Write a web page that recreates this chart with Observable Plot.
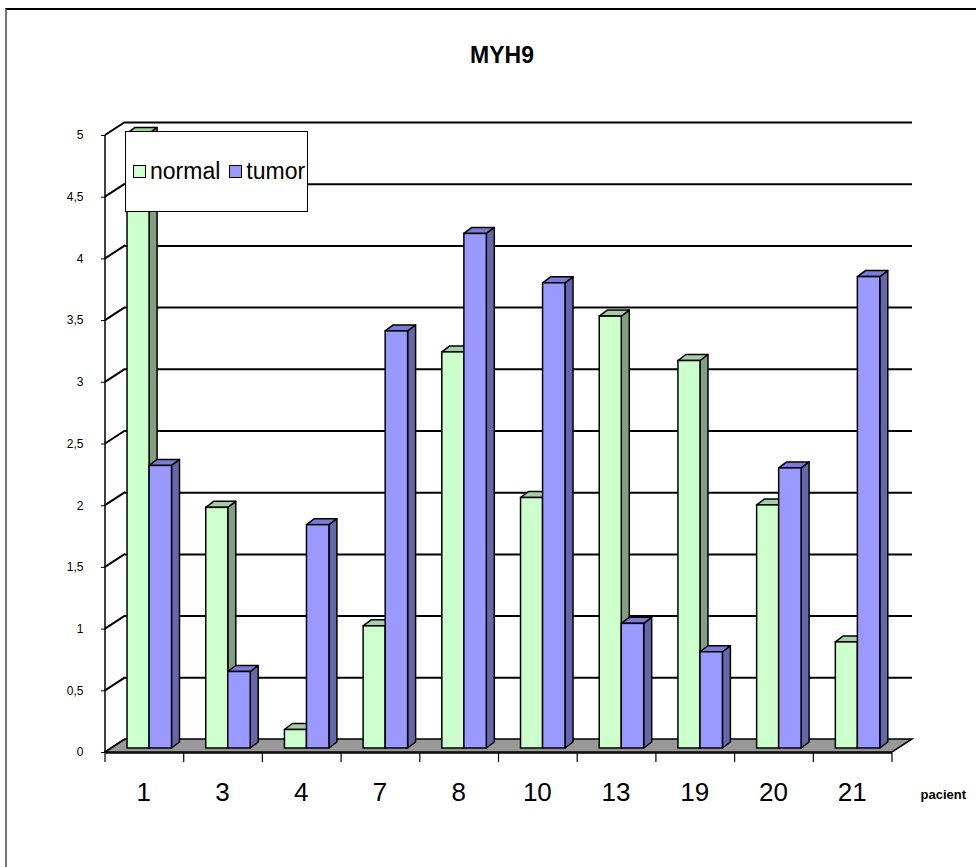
<!DOCTYPE html>
<html>
<head>
<meta charset="utf-8">
<script src="https://cdn.jsdelivr.net/npm/d3@7"></script>
<script src="https://cdn.jsdelivr.net/npm/@observablehq/plot@0.6"></script>
<style>
  html, body { margin: 0; padding: 0; background: #fff; overflow: hidden; }
  #chart { position: relative; width: 976px; height: 867px; font-family: "Liberation Sans", Arial, sans-serif; }
  #chart svg { position: absolute; left: 0; top: 0; }
  .border { position: absolute; left: 5px; top: 8px; width: 990px; height: 880px; border-top: 2px solid #000; border-left: 2px solid #777; pointer-events: none; }
  .legend { position: absolute; left: 125px; top: 131px; width: 174px; height: 79px; border: 1px solid #000; background: #fff;
            display: flex; align-items: center; padding-left: 7px; box-sizing: content-box; font-size: 23px; white-space: nowrap; color: #000; }
  .legend .sw { display: inline-block; width: 11px; height: 11px; border: 1.5px solid #000; margin-right: 4px; }
  .legend .item { display: flex; align-items: center; margin-right: 9px; }
</style>
</head>
<body>
<div id="chart"></div>
<script>
// MYH9 expression per patient, normal vs tumor tissue
const patients = ["1", "3", "4", "7", "8", "10", "13", "19", "20", "21"];
const normal   = [4.98, 1.95, 0.15, 0.99, 3.21, 2.03, 3.50, 3.14, 1.97, 0.86];
const tumor    = [2.29, 0.62, 1.81, 3.38, 4.17, 3.77, 1.01, 0.78, 2.27, 3.82];
const yTicks   = [0, 0.5, 1, 1.5, 2, 2.5, 3, 3.5, 4, 4.5, 5];
const seriesNames = ["normal", "tumor"];

const rows = patients.map((p, i) => ({patient: p, normal: normal[i], tumor: tumor[i]}));

// layout
const W = 976, H = 867;
const M = {left: 105, right: 84, top: 135, bottom: 115};
const bw = (W - M.left - M.right) / patients.length;

// pseudo-3D: depth of the floor / back wall, depth of each bar, and how far the bars sit behind the front edge
const DX = 20, DY = -13;
const BX = 8, BY = -6;
const LIFT = -4;

const style = {
  normal: {front: "#ccffcc", side: "#80a080", top: "#a6cfa6", slot: [0.28, 0.56]},
  tumor:  {front: "#9999ff", side: "#6666aa", top: "#7c7cd8", slot: [0.56, 0.845]}
};

// floor, left wall and category ticks
function walls(index, {x, y}, values, dims) {
  const g = d3.create("svg:g");
  const x0 = dims.marginLeft, x1 = dims.width - dims.marginRight, y0 = y(0);
  // left wall gridlines
  for (const v of yTicks) {
    g.append("line").attr("x1", x0).attr("y1", y(v)).attr("x2", x0 + DX).attr("y2", y(v) + DY)
      .attr("stroke", "#000").attr("stroke-width", 2);
  }
  // floor
  g.append("path")
    .attr("d", `M${x0},${y0}L${x1},${y0}L${x1 + DX},${y0 + DY}L${x0 + DX},${y0 + DY}Z`)
    .attr("fill", "#999").attr("stroke", "#000").attr("stroke-width", 1.5);
  // value axis line
  g.append("line").attr("x1", x0).attr("x2", x0).attr("y1", y(0)).attr("y2", y(5))
    .attr("stroke", "#000").attr("stroke-width", 1.5);
  // category axis line and ticks between categories
  g.append("line").attr("x1", x0).attr("x2", x1).attr("y1", y0 + 1).attr("y2", y0 + 1)
    .attr("stroke", "#000").attr("stroke-width", 1.5);
  const edges = patients.map(p => x(p)).concat([x(patients[patients.length - 1]) + x.bandwidth()]);
  for (const e of edges) {
    g.append("line").attr("x1", e).attr("x2", e).attr("y1", y0 + 1).attr("y2", y0 + 10)
      .attr("stroke", "#000").attr("stroke-width", 1.2);
  }
  return g.node();
}

// side and top faces of one series' bars
function barDepth(name, vals) {
  const s = style[name];
  return (index, {x, y}) => {
    const g = d3.create("svg:g").attr("stroke", "#000").attr("stroke-width", 1.5).attr("stroke-linejoin", "round");
    const w = x.bandwidth();
    patients.forEach((p, i) => {
      const xl = x(p) + s.slot[0] * w, xr = x(p) + s.slot[1] * w;
      const yt = y(vals[i]) + LIFT, yb = y(0) + LIFT;
      g.append("path").attr("fill", s.side)
        .attr("d", `M${xr},${yb}L${xr},${yt}L${xr + BX},${yt + BY}L${xr + BX},${yb + BY}Z`);
      g.append("path").attr("fill", s.top)
        .attr("d", `M${xl},${yt}L${xr},${yt}L${xr + BX},${yt + BY}L${xl + BX},${yt + BY}Z`);
    });
    return g.node();
  };
}

function front(name) {
  const s = style[name];
  return Plot.barY(rows, {
    x: "patient", y: name, fill: s.front, stroke: "#000", strokeWidth: 1.5,
    insetLeft: s.slot[0] * bw, insetRight: (1 - s.slot[1]) * bw, dy: LIFT
  });
}

const chart = Plot.plot({
  width: W, height: H,
  marginLeft: M.left, marginRight: M.right, marginTop: M.top, marginBottom: M.bottom,
  style: {fontFamily: "Liberation Sans, Arial, sans-serif", background: "transparent", color: "#000", overflow: "visible"},
  x: {type: "band", domain: patients, padding: 0, round: false, label: null},
  y: {domain: [0, 5], label: null},
  marks: [
    Plot.ruleY(yTicks.filter(v => v > 0), {y: d => d, dx: DX, dy: DY, stroke: "#000", strokeWidth: 2}),
    walls,
    barDepth("normal", normal),
    barDepth("tumor", tumor),
    front("normal"),
    front("tumor"),
    Plot.axisY({ticks: yTicks, tickSize: 4, tickPadding: 18, fontSize: 12, label: null,
                tickFormat: d => String(d).replace(".", ",")}),
    Plot.axisX({tickSize: 0, tickPadding: 30, fontSize: 26, label: null, dx: -1}),
    Plot.text(["MYH9"], {text: d => d, frameAnchor: "top", lineAnchor: "middle", dx: 3, dy: -80,
                         fontSize: 23, fontWeight: "bold", fill: "#000"}),
    Plot.text(["pacient"], {text: d => d, frameAnchor: "bottom-right", textAnchor: "start", lineAnchor: "middle",
                            dx: 28, dy: 42, fontSize: 13, fontWeight: "bold", fill: "#000"})
  ]
});

const root = document.getElementById("chart");
root.appendChild(chart);

// legend
const legend = document.createElement("div");
legend.className = "legend";
for (const name of seriesNames) {
  const item = document.createElement("span");
  item.className = "item";
  const sw = document.createElement("span");
  sw.className = "sw";
  sw.style.background = style[name].front;
  item.appendChild(sw);
  item.appendChild(document.createTextNode(name));
  legend.appendChild(item);
}
root.appendChild(legend);

const border = document.createElement("div");
border.className = "border";
root.appendChild(border);
</script>
</body>
</html>
